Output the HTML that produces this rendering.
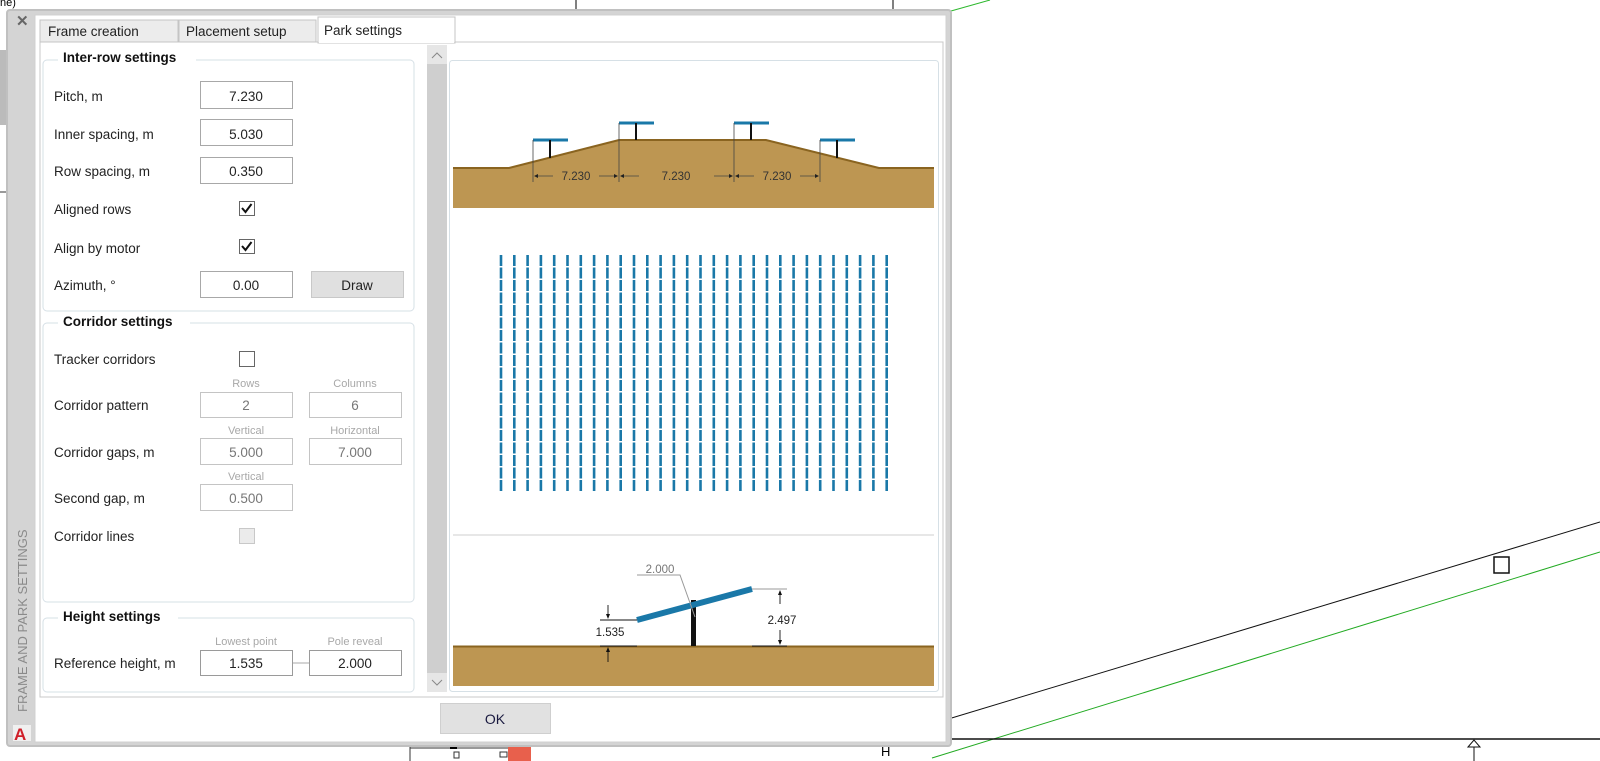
<!DOCTYPE html>
<html><head><meta charset="utf-8"><style>
html,body{margin:0;padding:0;background:#fff;}
svg{display:block;}
text{font-family:"Liberation Sans",sans-serif;}
</style></head><body>
<svg width="1600" height="761" viewBox="0 0 1600 761" xmlns="http://www.w3.org/2000/svg">
<!-- background CAD -->
<text x="0" y="6" font-size="11" fill="#000">ne)</text>
<line x1="576" y1="0" x2="576" y2="10" stroke="#000"/>
<line x1="893" y1="0" x2="893" y2="10" stroke="#000"/>
<line x1="951" y1="11" x2="990" y2="0" stroke="#2db82d"/>
<rect x="0" y="50" width="7" height="75" fill="#bbb"/>
<line x1="0" y1="192" x2="7" y2="192" stroke="#333"/>
<line x1="945" y1="720" x2="1600" y2="522" stroke="#111"/>
<line x1="932" y1="758" x2="1600" y2="552" stroke="#22aa22"/>
<line x1="945" y1="739" x2="1600" y2="739" stroke="#111" stroke-width="1.5"/>
<rect x="1494" y="557" width="15" height="16" fill="none" stroke="#111" stroke-width="1.5"/>
<path d="M1468 747 l6 -7 l6 7 z" fill="#fff" stroke="#111"/>
<line x1="1474" y1="747" x2="1474" y2="761" stroke="#111"/>
<text x="881" y="756" font-size="13" fill="#000">H</text>
<line x1="410" y1="748" x2="508" y2="748" stroke="#333"/>
<line x1="410" y1="744" x2="410" y2="761" stroke="#333"/>
<rect x="450" y="745" width="7" height="4" fill="#000"/>
<rect x="454" y="752" width="5" height="6" fill="#fff" stroke="#333"/>
<rect x="500" y="752" width="7" height="5" fill="#fff" stroke="#333"/>
<rect x="508" y="745" width="23" height="16" fill="#e8604c"/>

<!-- dialog -->
<rect x="7" y="10" width="944" height="736" rx="3" fill="#d4d4d4" stroke="#c0c0c0" stroke-width="2"/>
<rect x="35" y="15" width="911" height="727" fill="#fff" stroke="#d0d0d0"/>
<text x="16" y="26" font-size="15" font-weight="bold" fill="#666">✕</text>
<text transform="translate(27,712) rotate(-90)" font-size="13" fill="#8a8a8a">FRAME AND PARK SETTINGS</text>
<rect x="13" y="725" width="18" height="16" fill="#f0f0f0"/>
<text x="14" y="740" font-size="17" font-weight="bold" fill="#d0202a">A</text>

<!-- tabs -->
<rect x="40" y="42" width="903" height="655" fill="#fff" stroke="#c8c8c8"/>
<rect x="40" y="20" width="138" height="22" fill="#ececec" stroke="#c4c4c4"/>
<rect x="179" y="20" width="137" height="22" fill="#ececec" stroke="#c4c4c4"/>
<rect x="318" y="17" width="137" height="26" fill="#fff" stroke="#c4c4c4"/>
<line x1="319" y1="42" x2="454" y2="42" stroke="#fff" stroke-width="2"/>
<text x="48" y="36" font-size="13.5" fill="#222">Frame creation</text>
<text x="186" y="36" font-size="13.5" fill="#222">Placement setup</text>
<text x="324" y="35" font-size="13.5" fill="#222">Park settings</text>

<!-- group boxes -->
<g fill="none" stroke="#d6e0e6">
<path d="M58 60 H47 a4 4 0 0 0 -4 4 V307 a4 4 0 0 0 4 4 H410 a4 4 0 0 0 4 -4 V64 a4 4 0 0 0 -4 -4 H196"/>
<path d="M58 323 H47 a4 4 0 0 0 -4 4 V598 a4 4 0 0 0 4 4 H410 a4 4 0 0 0 4 -4 V327 a4 4 0 0 0 -4 -4 H190"/>
<path d="M58 618 H47 a4 4 0 0 0 -4 4 V688 a4 4 0 0 0 4 4 H410 a4 4 0 0 0 4 -4 V622 a4 4 0 0 0 -4 -4 H178"/>
</g>
<g font-size="13.5" font-weight="bold" fill="#111">
<text x="63" y="62">Inter-row settings</text>
<text x="63" y="326">Corridor settings</text>
<text x="63" y="621">Height settings</text>
</g>
<g font-size="13.5" fill="#222">
<text x="54" y="101">Pitch, m</text>
<text x="54" y="139">Inner spacing, m</text>
<text x="54" y="176">Row spacing, m</text>
<text x="54" y="214">Aligned rows</text>
<text x="54" y="253">Align by motor</text>
<text x="54" y="290">Azimuth, °</text>
<text x="54" y="364">Tracker corridors</text>
<text x="54" y="410">Corridor pattern</text>
<text x="54" y="457">Corridor gaps, m</text>
<text x="54" y="503">Second gap, m</text>
<text x="54" y="541">Corridor lines</text>
<text x="54" y="668">Reference height, m</text>
</g>
<g fill="#fff" stroke="#a8a8a8">
<rect x="200.5" y="81.5" width="92" height="27"/>
<rect x="200.5" y="119.5" width="92" height="26"/>
<rect x="200.5" y="157.5" width="92" height="26"/>
<rect x="200.5" y="271.5" width="92" height="26"/>
<rect x="200.5" y="392.5" width="92" height="25" stroke="#c4c4c4"/>
<rect x="309.5" y="392.5" width="92" height="25" stroke="#c4c4c4"/>
<rect x="200.5" y="438.5" width="92" height="26" stroke="#c4c4c4"/>
<rect x="309.5" y="438.5" width="92" height="26" stroke="#c4c4c4"/>
<rect x="200.5" y="484.5" width="92" height="26" stroke="#c4c4c4"/>
<rect x="200.5" y="650.5" width="92" height="25" stroke="#9a9a9a"/>
<rect x="309.5" y="650.5" width="92" height="25" stroke="#9a9a9a"/>
</g>
<line x1="293" y1="663" x2="309" y2="663" stroke="#aaa"/>
<rect x="311.5" y="271.5" width="92" height="26" fill="#e0e0e0" stroke="#c8c8c8"/>
<text x="357" y="290" font-size="13.5" fill="#222" text-anchor="middle">Draw</text>
<g font-size="13.5" text-anchor="middle" fill="#222">
<text x="246" y="101">7.230</text>
<text x="246" y="139">5.030</text>
<text x="246" y="176">0.350</text>
<text x="246" y="290">0.00</text>
<text x="246" y="668">1.535</text>
<text x="355" y="668">2.000</text>
</g>
<g font-size="13.5" text-anchor="middle" fill="#777">
<text x="246" y="410">2</text>
<text x="355" y="410">6</text>
<text x="246" y="457">5.000</text>
<text x="355" y="457">7.000</text>
<text x="246" y="503">0.500</text>
</g>
<g font-size="11" text-anchor="middle" fill="#a8a8a8">
<text x="246" y="387">Rows</text>
<text x="355" y="387">Columns</text>
<text x="246" y="434">Vertical</text>
<text x="355" y="434">Horizontal</text>
<text x="246" y="480">Vertical</text>
<text x="246" y="645">Lowest point</text>
<text x="355" y="645">Pole reveal</text>
</g>
<!-- checkboxes -->
<rect x="239.5" y="201.5" width="15" height="14" fill="#fff" stroke="#666"/>
<path d="M242 208 l3.5 4 l6 -8" fill="none" stroke="#111" stroke-width="2"/>
<rect x="239.5" y="239.5" width="15" height="14" fill="#fff" stroke="#666"/>
<path d="M242 246 l3.5 4 l6 -8" fill="none" stroke="#111" stroke-width="2"/>
<rect x="239.5" y="351.5" width="15" height="15" fill="#fff" stroke="#666"/>
<rect x="239.5" y="528.5" width="15" height="15" fill="#ebebeb" stroke="#c8c8c8"/>

<!-- scrollbar -->
<rect x="427" y="45" width="20" height="647" fill="#cfcfcf"/>
<rect x="427" y="45" width="20" height="19" fill="#e6e6e6"/>
<rect x="427" y="673" width="20" height="19" fill="#e6e6e6"/>
<path d="M432 58 l5 -5 l5 5" fill="none" stroke="#888"/>
<path d="M432 680 l5 5 l5 -5" fill="none" stroke="#888"/>

<!-- preview panel -->
<rect x="449.5" y="60.5" width="489" height="631" rx="3" fill="#fff" stroke="#d6e0e6"/>
<!-- top terrain -->
<path d="M453 168 H509 L619 140 H766 L879 168 H934 V208 H453 Z" fill="#bd9652"/>
<path d="M453 168 H509 L619 140 H766 L879 168 H934" fill="none" stroke="#8a6420" stroke-width="2"/>
<g stroke="#1a78a8" stroke-width="3">
<line x1="533" y1="140" x2="568" y2="140"/>
<line x1="619" y1="123" x2="654" y2="123"/>
<line x1="734" y1="123" x2="769" y2="123"/>
<line x1="820" y1="140" x2="855" y2="140"/>
</g>
<g stroke="#111" stroke-width="2">
<line x1="550" y1="140" x2="550" y2="158"/>
<line x1="636" y1="123" x2="636" y2="140"/>
<line x1="751" y1="123" x2="751" y2="140"/>
<line x1="837" y1="140" x2="837" y2="158"/>
</g>
<g stroke="#444" stroke-width="0.8">
<line x1="533" y1="140" x2="533" y2="182"/>
<line x1="619" y1="123" x2="619" y2="182"/>
<line x1="734" y1="123" x2="734" y2="182"/>
<line x1="820" y1="140" x2="820" y2="182"/>
<line x1="535" y1="176" x2="553" y2="176"/><line x1="599" y1="176" x2="617" y2="176"/>
<line x1="621" y1="176" x2="639" y2="176"/><line x1="714" y1="176" x2="732" y2="176"/>
<line x1="736" y1="176" x2="754" y2="176"/><line x1="800" y1="176" x2="818" y2="176"/>
</g>
<g fill="#222">
<path d="M534 176 l4 -2 v4z"/><path d="M618 176 l-4 -2 v4z"/>
<path d="M620 176 l4 -2 v4z"/><path d="M733 176 l-4 -2 v4z"/>
<path d="M735 176 l4 -2 v4z"/><path d="M819 176 l-4 -2 v4z"/>
</g>
<g font-size="11.5" fill="#333" text-anchor="middle">
<text x="576" y="180">7.230</text><text x="676" y="180">7.230</text><text x="777" y="180">7.230</text>
</g>
<!-- columns -->
<g stroke="#1a78a8" stroke-width="2.6" stroke-dasharray="11 1.5">
<line x1="501" y1="255" x2="501" y2="491"/><line x1="514.3" y1="255" x2="514.3" y2="491"/><line x1="527.6" y1="255" x2="527.6" y2="491"/><line x1="540.9" y1="255" x2="540.9" y2="491"/><line x1="554.2" y1="255" x2="554.2" y2="491"/><line x1="567.5" y1="255" x2="567.5" y2="491"/><line x1="580.8" y1="255" x2="580.8" y2="491"/><line x1="594.1" y1="255" x2="594.1" y2="491"/><line x1="607.4" y1="255" x2="607.4" y2="491"/><line x1="620.7" y1="255" x2="620.7" y2="491"/><line x1="634" y1="255" x2="634" y2="491"/><line x1="647.3" y1="255" x2="647.3" y2="491"/><line x1="660.6" y1="255" x2="660.6" y2="491"/><line x1="673.9" y1="255" x2="673.9" y2="491"/><line x1="687.2" y1="255" x2="687.2" y2="491"/><line x1="700.5" y1="255" x2="700.5" y2="491"/><line x1="713.8" y1="255" x2="713.8" y2="491"/><line x1="727.1" y1="255" x2="727.1" y2="491"/><line x1="740.4" y1="255" x2="740.4" y2="491"/><line x1="753.7" y1="255" x2="753.7" y2="491"/><line x1="767" y1="255" x2="767" y2="491"/><line x1="780.3" y1="255" x2="780.3" y2="491"/><line x1="793.6" y1="255" x2="793.6" y2="491"/><line x1="806.9" y1="255" x2="806.9" y2="491"/><line x1="820.2" y1="255" x2="820.2" y2="491"/><line x1="833.5" y1="255" x2="833.5" y2="491"/><line x1="846.8" y1="255" x2="846.8" y2="491"/><line x1="860.1" y1="255" x2="860.1" y2="491"/><line x1="873.4" y1="255" x2="873.4" y2="491"/><line x1="886.7" y1="255" x2="886.7" y2="491"/>
</g>
<line x1="453" y1="535" x2="934" y2="535" stroke="#cfcfcf"/>
<!-- bottom terrain -->
<rect x="453" y="646" width="481" height="40" fill="#bd9652"/>
<line x1="453" y1="646.5" x2="934" y2="646.5" stroke="#8a6420" stroke-width="2"/>
<rect x="691" y="600" width="5" height="46" fill="#111"/>
<line x1="637" y1="620" x2="752" y2="589" stroke="#1a78a8" stroke-width="6"/>
<g stroke="#111" stroke-width="0.9">
<line x1="600" y1="620" x2="637" y2="620"/>
<line x1="600" y1="646" x2="637" y2="646"/>
<line x1="752" y1="646" x2="787" y2="646"/>
<line x1="608" y1="605" x2="608" y2="615"/>
<line x1="608" y1="652" x2="608" y2="662"/>
<line x1="780" y1="593" x2="780" y2="604"/>
<line x1="780" y1="630" x2="780" y2="641"/>
</g>
<line x1="752" y1="589" x2="787" y2="589" stroke="#999"/>
<g fill="#111">
<path d="M608 619 l-2 -5 h4z"/><path d="M608 647 l-2 5 h4z"/>
<path d="M780 590 l-2 5 h4z"/><path d="M780 645 l-2 -5 h4z"/>
</g>
<path d="M637 575 H680 L695 617" fill="none" stroke="#999"/>
<g font-size="11.5" text-anchor="middle">
<text x="660" y="573" fill="#777">2.000</text>
<text x="610" y="636" fill="#222">1.535</text>
<text x="782" y="624" fill="#222">2.497</text>
</g>
<!-- OK -->
<rect x="440.5" y="703.5" width="110" height="30" fill="#e1e1e1" stroke="#cfcfcf"/>
<text x="495" y="724" font-size="14" fill="#1a1a40" text-anchor="middle">OK</text>
</svg>
</body></html>
